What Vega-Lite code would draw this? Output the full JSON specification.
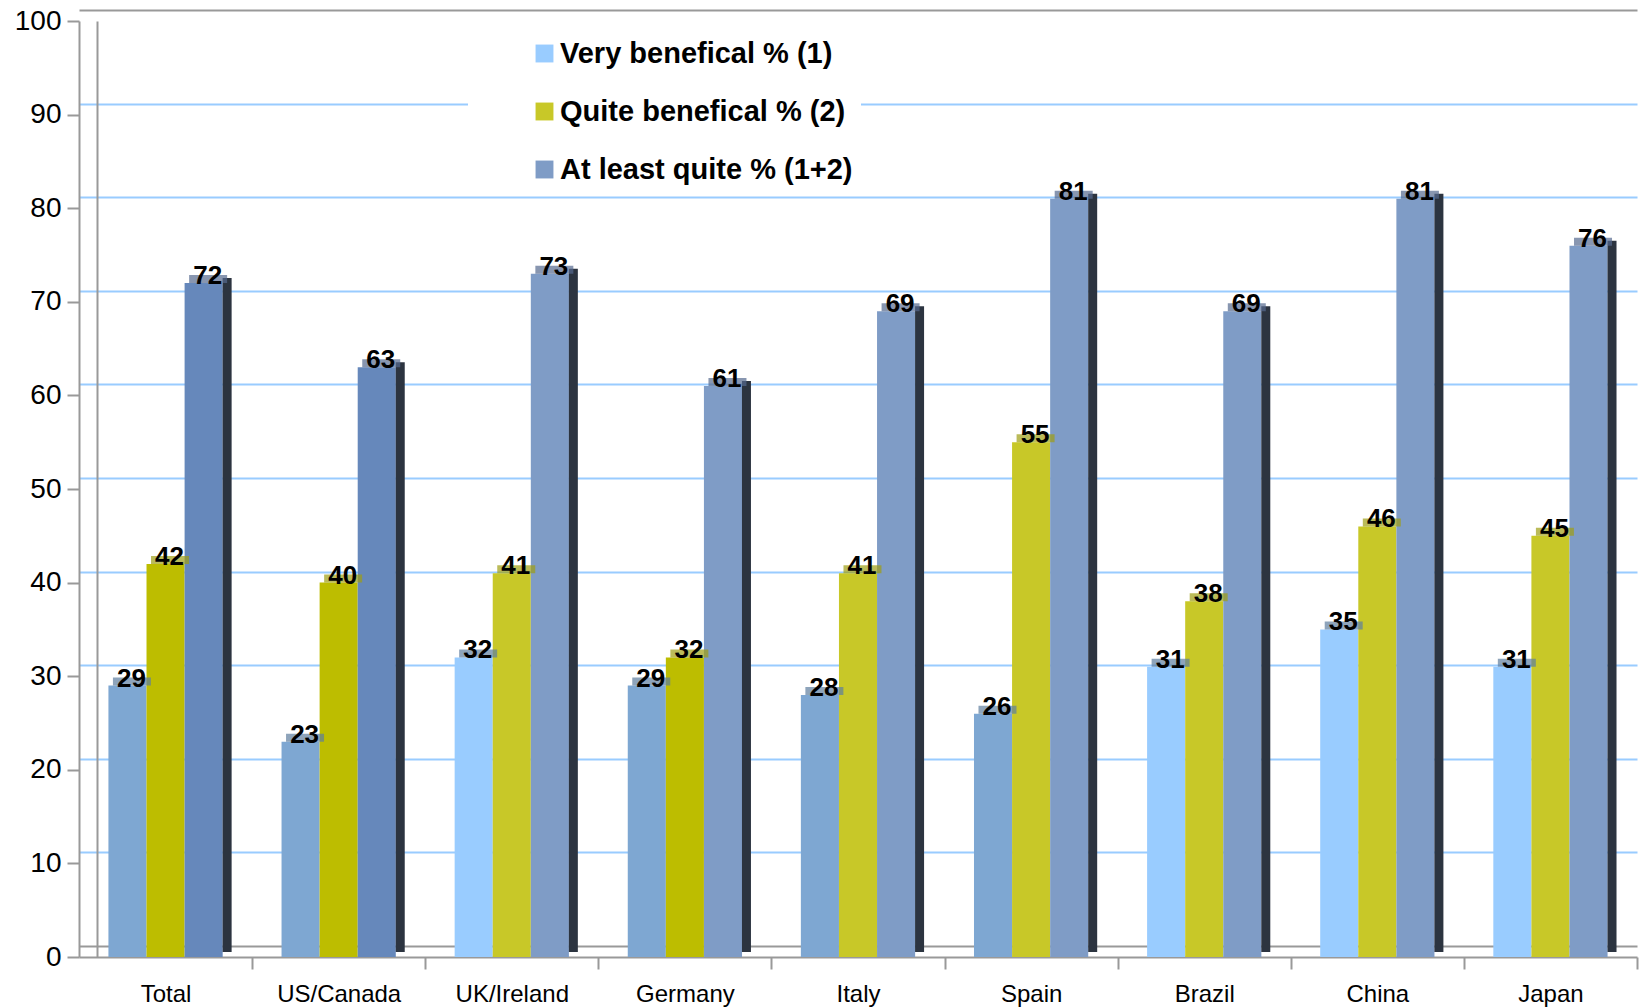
{
  "$schema": "https://vega.github.io/schema/vega-lite/v6.json",
  "width": 1558,
  "height": 936,
  "autosize": {"type": "none"},
  "padding": {"left": 79, "top": 21, "right": 12, "bottom": 50},
  "background": "white",
  "config": {"view": {"stroke": null}, "font": "Liberation Sans"},
  "data": {
    "values": [
      {"country": "Total", "series": "Very benefical % (1)", "value": 29},
      {"country": "Total", "series": "Quite benefical % (2)", "value": 42},
      {"country": "Total", "series": "At least quite % (1+2)", "value": 72},
      {"country": "US/Canada", "series": "Very benefical % (1)", "value": 23},
      {"country": "US/Canada", "series": "Quite benefical % (2)", "value": 40},
      {"country": "US/Canada", "series": "At least quite % (1+2)", "value": 63},
      {"country": "UK/Ireland", "series": "Very benefical % (1)", "value": 32},
      {"country": "UK/Ireland", "series": "Quite benefical % (2)", "value": 41},
      {"country": "UK/Ireland", "series": "At least quite % (1+2)", "value": 73},
      {"country": "Germany", "series": "Very benefical % (1)", "value": 29},
      {"country": "Germany", "series": "Quite benefical % (2)", "value": 32},
      {"country": "Germany", "series": "At least quite % (1+2)", "value": 61},
      {"country": "Italy", "series": "Very benefical % (1)", "value": 28},
      {"country": "Italy", "series": "Quite benefical % (2)", "value": 41},
      {"country": "Italy", "series": "At least quite % (1+2)", "value": 69},
      {"country": "Spain", "series": "Very benefical % (1)", "value": 26},
      {"country": "Spain", "series": "Quite benefical % (2)", "value": 55},
      {"country": "Spain", "series": "At least quite % (1+2)", "value": 81},
      {"country": "Brazil", "series": "Very benefical % (1)", "value": 31},
      {"country": "Brazil", "series": "Quite benefical % (2)", "value": 38},
      {"country": "Brazil", "series": "At least quite % (1+2)", "value": 69},
      {"country": "China", "series": "Very benefical % (1)", "value": 35},
      {"country": "China", "series": "Quite benefical % (2)", "value": 46},
      {"country": "China", "series": "At least quite % (1+2)", "value": 81},
      {"country": "Japan", "series": "Very benefical % (1)", "value": 31},
      {"country": "Japan", "series": "Quite benefical % (2)", "value": 45},
      {"country": "Japan", "series": "At least quite % (1+2)", "value": 76}
    ]
  },
  "encoding": {
    "x": {
      "field": "country",
      "type": "nominal",
      "sort": ["Total", "US/Canada", "UK/Ireland", "Germany", "Italy", "Spain", "Brazil", "China", "Japan"],
      "scale": {"paddingInner": 0.34, "paddingOuter": 0.17},
      "axis": {
        "title": null,
        "labelAngle": 0,
        "labelFontSize": 24,
        "labelColor": "black",
        "tickOffset": 86.56,
        "labelOffset": -86.56,
        "tickSize": 12,
        "tickColor": "#999999",
        "tickWidth": 2,
        "domainColor": "#999999",
        "domainWidth": 2,
        "labelPadding": 13
      }
    }
  },
  "layer": [
    {
      "mark": {"type": "bar"},
      "encoding": {
        "xOffset": {
          "field": "series",
          "type": "nominal",
          "sort": ["Very benefical % (1)", "Quite benefical % (2)", "At least quite % (1+2)"],
          "scale": {"paddingInner": 0, "paddingOuter": 0}
        },
        "y": {
          "field": "value",
          "type": "quantitative",
          "scale": {"domain": [0, 100]},
          "axis": {
            "orient": "left",
            "title": null,
            "grid": false,
            "values": [0, 10, 20, 30, 40, 50, 60, 70, 80, 90, 100],
            "tickSize": 12,
            "tickColor": "#999999",
            "tickWidth": 2,
            "domainColor": "#999999",
            "domainWidth": 2,
            "labelFontSize": 28,
            "labelColor": "black",
            "labelPadding": 6
          }
        },
        "fill": {
          "field": "series",
          "type": "nominal",
          "scale": {
            "domain": ["Very benefical % (1)", "Quite benefical % (2)", "At least quite % (1+2)"],
            "range": ["#99CCFF", "#C8C828", "#7F9CC6"]
          },
          "legend": {
            "title": null,
            "orient": "none",
            "legendX": 389,
            "legendY": 10,
            "symbolType": "square",
            "symbolSize": 320,
            "symbolOffset": 54,
            "symbolStrokeWidth": 0,
            "labelFontSize": 29,
            "labelFontWeight": "bold",
            "labelColor": "black",
            "labelOffset": 1,
            "labelLimit": 600,
            "rowPadding": 28,
            "padding": 8,
            "fillColor": "white"
          },
          "condition": [
            {"test": "datum.series === 'Very benefical % (1)' && indexof(['Total','US/Canada','Germany','Italy','Spain'], datum.country) >= 0", "value": "#7EA7D2"},
            {"test": "datum.series === 'Quite benefical % (2)' && indexof(['Total','US/Canada','Germany'], datum.country) >= 0", "value": "#BDBD00"},
            {"test": "datum.series === 'At least quite % (1+2)' && indexof(['Total','US/Canada'], datum.country) >= 0", "value": "#6688BB"}
          ]
        }
      }
    },
    {
      "transform": [{"filter": "datum.series === 'At least quite % (1+2)'"}],
      "mark": {"type": "bar", "width": 9, "yOffset": -5, "color": "#2C3440"},
      "encoding": {
        "xOffset": {"value": 118.7},
        "y": {
          "field": "value",
          "type": "quantitative",
          "scale": {"domain": [0, 100]},
          "axis": {
            "orient": "left",
            "title": null,
            "offset": -18,
            "tickOffset": -11,
            "grid": true,
            "gridColor": {"condition": {"test": "datum.value === 0 || datum.value === 100", "value": "#999999"}, "value": "#99CCFF"},
            "gridWidth": 2,
            "labels": false,
            "ticks": false,
            "domain": true,
            "domainColor": "#999999",
            "domainWidth": 2,
            "values": [0, 10, 20, 30, 40, 50, 60, 70, 80, 90, 100]
          }
        }
      }
    },
    {
      "transform": [{"filter": "datum.series === 'Very benefical % (1)'"}],
      "mark": {"type": "tick", "orient": "horizontal", "size": 38, "thickness": 8, "yOffset": -4, "color": "#5E7E9E"},
      "encoding": {
        "xOffset": {"value": 23.5},
        "y": {"field": "value", "type": "quantitative", "scale": {"domain": [0, 100]}, "axis": null}
      }
    },
    {
      "transform": [{"filter": "datum.series === 'Quite benefical % (2)'"}],
      "mark": {"type": "tick", "orient": "horizontal", "size": 38, "thickness": 8, "yOffset": -4, "color": "#9E9E12"},
      "encoding": {
        "xOffset": {"value": 61.6},
        "y": {"field": "value", "type": "quantitative", "scale": {"domain": [0, 100]}, "axis": null}
      }
    },
    {
      "transform": [{"filter": "datum.series === 'At least quite % (1+2)'"}],
      "mark": {"type": "tick", "orient": "horizontal", "size": 38, "thickness": 8, "yOffset": -4, "color": "#566A8E"},
      "encoding": {
        "xOffset": {"value": 99.7},
        "y": {"field": "value", "type": "quantitative", "scale": {"domain": [0, 100]}, "axis": null}
      }
    },
    {
      "mark": {"type": "text", "fontSize": 26, "fontWeight": "bold", "color": "black", "baseline": "alphabetic", "align": "center", "dx": 4, "dy": 1},
      "encoding": {
        "xOffset": {
          "field": "series",
          "type": "nominal",
          "sort": ["Very benefical % (1)", "Quite benefical % (2)", "At least quite % (1+2)"]
        },
        "y": {"field": "value", "type": "quantitative", "scale": {"domain": [0, 100]}, "axis": null},
        "text": {"field": "value", "type": "quantitative"}
      }
    }
  ],
  "resolve": {"axis": {"y": "independent"}}
}
